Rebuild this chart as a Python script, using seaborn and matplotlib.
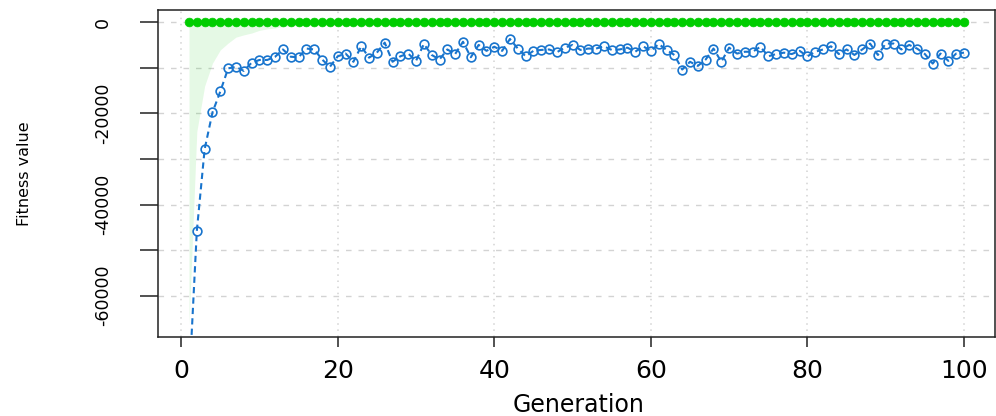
import matplotlib
matplotlib.use("Agg")
import matplotlib.pyplot as plt
import seaborn as sns
import pandas as pd

# GA run summary: one row per generation
generation = list(range(1, 101))

best_fitness = [
    0, 0, 0, 0, 0, 0, 0, 0, 0, 0,
    0, 0, 0, 0, 0, 0, 0, 0, 0, 0,
    0, 0, 0, 0, 0, 0, 0, 0, 0, 0,
    0, 0, 0, 0, 0, 0, 0, 0, 0, 0,
    0, 0, 0, 0, 0, 0, 0, 0, 0, 0,
    0, 0, 0, 0, 0, 0, 0, 0, 0, 0,
    0, 0, 0, 0, 0, 0, 0, 0, 0, 0,
    0, 0, 0, 0, 0, 0, 0, 0, 0, 0,
    0, 0, 0, 0, 0, 0, 0, 0, 0, 0,
    0, 0, 0, 0, 0, 0, 0, 0, 0, 0,
]

mean_fitness = [
    -80000, -45800, -27850, -19800, -15200, -10150, -9800, -10700, -8900, -8300,
    -8300, -7600, -6000, -7600, -7700, -5800, -6000, -8200, -9800, -7500,
    -6900, -8700, -5300, -7800, -6700, -4500, -8700, -7500, -6900, -8500,
    -4800, -7200, -8200, -6000, -7000, -4300, -7700, -5000, -6300, -5400,
    -6300, -3700, -5800, -7500, -6300, -6100, -6000, -6600, -5600, -5000,
    -6100, -5800, -5800, -5300, -6100, -6000, -5600, -6500, -5300, -6300,
    -4800, -6100, -7200, -10400, -8700, -9600, -8200, -5800, -8700, -5600,
    -6900, -6500, -6500, -5400, -7500, -7000, -6700, -7000, -6300, -7500,
    -6500, -6000, -5300, -7000, -6000, -7200, -6000, -4700, -7200, -4700,
    -4700, -6000, -5000, -5800, -7000, -9100, -6900, -8500, -6900, -6700,
]

median_fitness = [
    -66400, -24000, -14000, -9000, -6100, -4600, -3300, -2800, -2400, -1800,
    -1500, -1300, -1000, -800, -600, -500, -400, -350, -300, -250,
    -200, -200, -180, -160, -150, -140, -130, -120, -110, -100,
    -100, -100, -90, -90, -80, -80, -80, -70, -70, -70,
    -60, -60, -60, -60, -50, -50, -50, -50, -50, -50,
    -50, -50, -40, -40, -40, -40, -40, -40, -40, -40,
    -40, -40, -40, -30, -30, -30, -30, -30, -30, -30,
    -30, -30, -30, -30, -30, -30, -30, -30, -30, -30,
    -20, -20, -20, -20, -20, -20, -20, -20, -20, -20,
    -20, -20, -20, -20, -20, -20, -20, -20, -20, -20,
]

x_ticks = [0, 20, 40, 60, 80, 100]
y_ticks = [0, -10000, -20000, -30000, -40000, -50000, -60000]
y_tick_labels = ["0", "", "-20000", "", "-40000", "", "-60000"]

GREEN = "#00CD00"
BLUE = "#1874CD"
GRID = "#D3D3D3"
INK = "#222222"

sns.set_style("white")
plt.rcParams["font.family"] = ["DejaVu Sans"]
plt.rcParams["axes.unicode_minus"] = False
plt.rcParams["text.color"] = "black"
plt.rcParams["axes.labelcolor"] = "black"

df = pd.DataFrame({
    "Generation": generation,
    "Best": best_fitness,
    "Mean": mean_fitness,
    "Median": median_fitness,
})

fig = plt.figure(figsize=(9.96, 4.16), dpi=100)
ax = fig.add_axes([158 / 996, 79 / 416, 837 / 996, 327 / 416])

# R-style 4% padding around the data range
n_lo, n_hi = min(generation), max(generation)
xpad = 0.04 * (n_hi - n_lo)
y_lo, y_hi = min(median_fitness), max(best_fitness)
ypad = 0.04 * (y_hi - y_lo)

# background grid at the tick positions
ax.set_xticks(x_ticks)
ax.set_yticks(y_ticks)
ax.set_yticklabels(y_tick_labels)
ax.xaxis.grid(True, color=GRID, linewidth=1.1, linestyle=(0, (1, 3)), zorder=0)
ax.yaxis.grid(True, color=GRID, linewidth=1.0, linestyle=(0, (4, 5)), zorder=0)
ax.set_axisbelow(True)

# band between median and best fitness
ax.fill_between(df["Generation"], df["Median"], df["Best"],
                color=GREEN, alpha=0.1, linewidth=0, zorder=1)

sns.lineplot(data=df, x="Generation", y="Mean", ax=ax, color=BLUE,
             linewidth=1.5, linestyle=(0, (3, 2)), marker="o", markersize=6.3,
             markerfacecolor="none", markeredgecolor=BLUE,
             markeredgewidth=1.2, zorder=3)
sns.lineplot(data=df, x="Generation", y="Best", ax=ax, color=GREEN,
             linewidth=2, marker="o", markersize=6.3,
             markerfacecolor=GREEN, markeredgecolor=GREEN,
             markeredgewidth=0.5, zorder=4)

ax.set_xlim(n_lo - xpad, n_hi + xpad)
ax.set_ylim(y_lo - ypad, y_hi + ypad)

for side in ["left", "right", "top", "bottom"]:
    ax.spines[side].set_visible(True)
    ax.spines[side].set_color(INK)
    ax.spines[side].set_linewidth(1.1)

ax.tick_params(axis="x", bottom=True, direction="out", length=7.5, width=1.1,
               color=INK, pad=8, labelsize=18, labelcolor="black")
ax.tick_params(axis="y", left=True, direction="out", length=13, width=1.1,
               color=INK, pad=20, labelsize=12.5, labelcolor="black")
for lbl in ax.get_yticklabels():
    lbl.set_rotation(90)
    lbl.set_verticalalignment("center")

ax.set_xlabel("Generation", fontsize=17, va="center", color="black")
ax.xaxis.set_label_coords(0.502, -0.208)
ax.set_ylabel("Fitness value", fontsize=11.5, va="center", color="black")
ax.yaxis.set_label_coords(-0.159, 0.5)

fig.savefig("out.png", dpi=100)
